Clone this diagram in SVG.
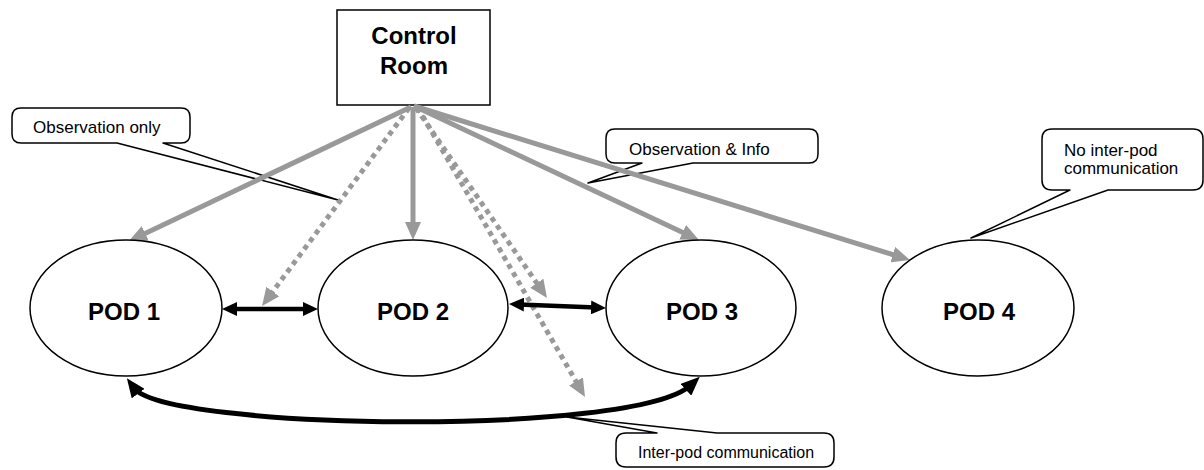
<svg xmlns="http://www.w3.org/2000/svg" width="1204" height="470" viewBox="0 0 1204 470">
  <style>
    .box { fill: #ffffff; stroke: #000000; stroke-width: 1.5; }
    .pod { fill: #ffffff; stroke: #000000; stroke-width: 1.5; }
    .callout { fill: #ffffff; stroke: #000000; stroke-width: 1.5; stroke-linejoin: round; }
    .title { font-family: "Liberation Sans", Arial, sans-serif; font-weight: bold; font-size: 24px; fill: #000000; text-anchor: middle; }
    .note { font-family: "Liberation Sans", Arial, sans-serif; font-size: 17px; fill: #000000; }
    .feed { fill: none; stroke: #999999; stroke-width: 5; marker-end: url(#grayHead); }
    .dotted { stroke-dasharray: 5 4.5; }
    .link { fill: none; stroke: #000000; stroke-width: 4.5; marker-start: url(#blackHead); marker-end: url(#blackHead); }
    .loop { fill: none; stroke: #000000; stroke-width: 5; marker-start: url(#curveHead); marker-end: url(#curveHead); }
  </style>
  <defs>
    <!-- heads overhang the line end so the butt cap stays hidden -->
    <marker id="grayHead" markerUnits="userSpaceOnUse" markerWidth="18" markerHeight="16" viewBox="0 0 18 16" refX="6" refY="8" orient="auto">
      <path d="M0,0 L18,8 L0,16 Z" fill="#999999"/>
    </marker>
    <marker id="blackHead" markerUnits="userSpaceOnUse" markerWidth="15" markerHeight="14" viewBox="0 0 15 14" refX="5" refY="7" orient="auto-start-reverse">
      <path d="M0,0 L15,7 L0,14 Z" fill="#000000"/>
    </marker>
    <marker id="curveHead" markerUnits="userSpaceOnUse" markerWidth="19" markerHeight="16" viewBox="0 0 19 16" refX="7" refY="8" orient="auto-start-reverse">
      <path d="M0,0 L19,8 L0,16 Z" fill="#000000"/>
    </marker>
  </defs>

  <!-- callouts -->
  <g id="note-observation-only">
    <path class="callout" d="M21,108 H181 Q190,108 190,117 V134 Q190,143 181,143 H163 L338,200 L117,143 H21 Q12,143 12,134 V117 Q12,108 21,108 Z"/>
    <text class="note" x="33" y="133">Observation only</text>
  </g>
  <g id="note-observation-info">
    <path class="callout" d="M615,129 H809 Q818,129 818,138 V154 Q818,163 809,163 H693 L588,183 L642,163 H615 Q606,163 606,154 V138 Q606,129 615,129 Z"/>
    <text class="note" x="629" y="155">Observation &amp; Info</text>
  </g>
  <g id="note-no-interpod">
    <path class="callout" d="M1052,129 H1193 Q1203,129 1203,139 V180 Q1203,190 1193,190 H1108 L971,238 L1070,190 H1052 Q1042,190 1042,180 V139 Q1042,129 1052,129 Z"/>
    <text class="note" x="1064" y="156">No inter-pod</text>
    <text class="note" x="1064" y="174">communication</text>
  </g>
  <g id="note-interpod">
    <path class="callout" d="M626,433 H657 L567,417 L717,433 H824 Q834,433 834,443 V457 Q834,467 824,467 H626 Q616,467 616,457 V443 Q616,433 626,433 Z"/>
    <text class="note" x="638" y="458" style="font-size:16px">Inter-pod communication</text>
  </g>

  <!-- control room -->
  <g id="control-room">
    <rect class="box" x="337" y="10" width="153" height="95"/>
    <text class="title" x="414" y="44">Control</text>
    <text class="title" x="414" y="74">Room</text>
  </g>

  <!-- connectors -->
  <g id="connectors">
    <line class="feed" x1="411" y1="107" x2="139.8" y2="235.9"/>
    <line class="feed dotted" x1="409" y1="108" x2="269.2" y2="296.4"/>
    <line class="feed" x1="413" y1="107" x2="413" y2="228"/>
    <line class="feed dotted" x1="416" y1="108" x2="540.2" y2="288.1"/>
    <line class="feed dotted" x1="418" y1="108" x2="579" y2="386.6"/>
    <line class="feed" x1="414" y1="106" x2="688.1" y2="234.9"/>
    <line class="feed" x1="414" y1="106" x2="898.5" y2="256.4"/>
    <line class="link" x1="232" y1="309" x2="308" y2="309"/>
    <line class="link" x1="519" y1="304.4" x2="596" y2="307.6"/>
    <path class="loop" d="M134,388 C165,430 635,437 691,385"/>
  </g>

  <!-- pods -->
  <g id="pod-1">
    <ellipse class="pod" cx="126" cy="308" rx="96" ry="68"/>
    <text class="title" x="124" y="320">POD 1</text>
  </g>
  <g id="pod-2">
    <ellipse class="pod" cx="413" cy="308" rx="95" ry="68"/>
    <text class="title" x="413" y="320">POD 2</text>
  </g>
  <g id="pod-3">
    <ellipse class="pod" cx="701" cy="308" rx="95" ry="68"/>
    <text class="title" x="702" y="320">POD 3</text>
  </g>
  <g id="pod-4">
    <ellipse class="pod" cx="978" cy="308" rx="96" ry="68"/>
    <text class="title" x="979" y="320">POD 4</text>
  </g>
</svg>
